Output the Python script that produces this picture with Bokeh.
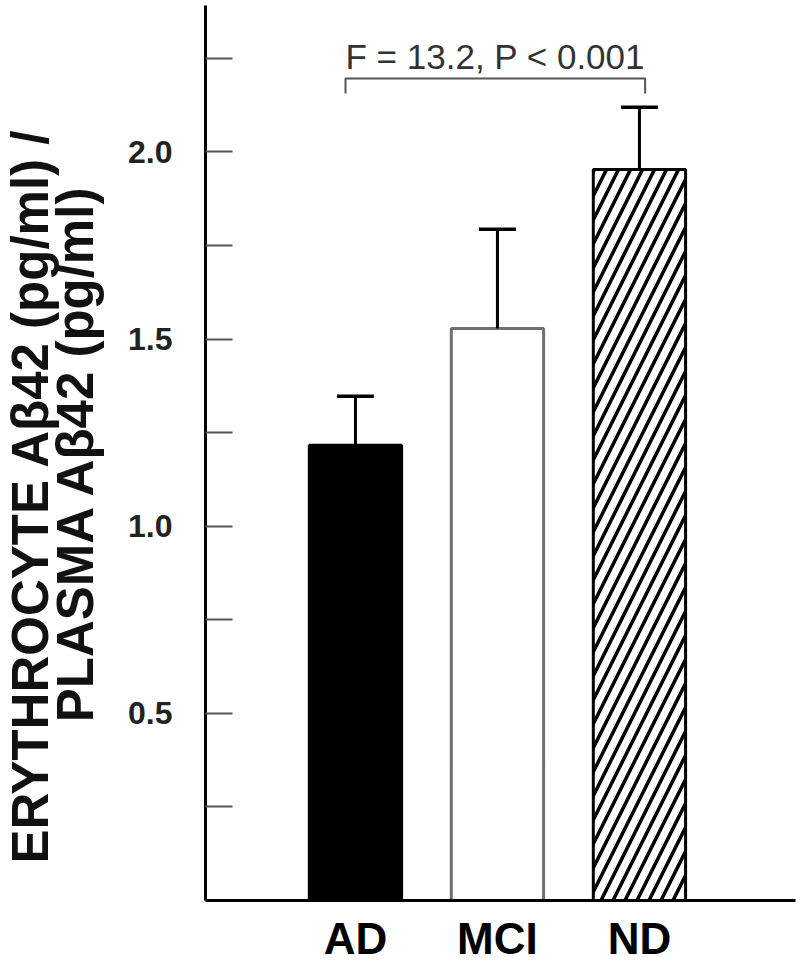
from bokeh.plotting import figure
from bokeh.models import Range1d, FixedTicker, Title
from bokeh.embed import file_html
from bokeh.resources import INLINE
from bokeh.core.properties import value

# ---- data ----
groups = ["AD", "MCI", "ND"]
means = [1.216, 1.528, 1.953]
sems = [0.131, 0.265, 0.166]
y_ticks = [0.25, 0.5, 0.75, 1.0, 1.25, 1.5, 1.75, 2.0, 2.25]
y_tick_labels = ["", "0.5", "", "1.0", "", "1.5", "", "2.0", ""]
stat_text = "F = 13.2, P < 0.001"
ylabel_lines = ["ERYTHROCYTE A\u03b242 (pg/ml) /", "PLASMA A\u03b242 (pg/ml)"]

# ---- styles ----
fills = ["black", "white", "white"]
outlines = ["black", "#707070", "black"]
hatches = [" ", " ", "/"]
FONT = "Liberation Sans"
TITLE_SIZE = "51px"

xs = [i + 1 for i in range(len(groups))]
tops = [m + s for m, s in zip(means, sems)]

p = figure(width=800, height=965, output_backend="svg", toolbar_location=None,
           x_range=Range1d(-0.056, 4.099), y_range=Range1d(0, 2.391),
           min_border_left=205, min_border_right=5, min_border_top=5,
           min_border_bottom=65)
p.outline_line_color = None
p.xgrid.visible = False
p.ygrid.visible = False
p.background_fill_color = "white"
p.border_fill_color = "white"

# bars
p.vbar(x=xs, top=means, bottom=0, width=0.65, fill_color=fills,
       line_color=outlines, line_width=3, hatch_pattern=hatches,
       hatch_color="black", hatch_scale=24, hatch_weight=3.5)

# error bars (upper only)
p.segment(x0=xs, y0=means, x1=xs, y1=tops, line_color="black", line_width=3)
cap = 0.13
p.segment(x0=[x - cap for x in xs], y0=tops, x1=[x + cap for x in xs], y1=tops,
          line_color="black", line_width=3.5)

# significance bracket
bx0, bx1 = xs[0] - 0.07, xs[-1] + 0.04
by, bdrop = 2.196, 0.04
p.line(x=[bx0, bx0, bx1, bx1], y=[by - bdrop, by, by, by - bdrop],
       line_color="#555555", line_width=2, line_join="round")
p.text(x=[(bx0 + bx1) / 2], y=[2.255], text=[stat_text],
       text_font=value(FONT), text_font_size="35px", text_align="center",
       text_baseline="alphabetic", text_color="#333333")

# axes
yax = p.yaxis[0]
yax.ticker = FixedTicker(ticks=y_ticks)
yax.major_label_overrides = {t: l for t, l in zip(y_ticks, y_tick_labels)}
yax.axis_line_width = 3
yax.axis_line_color = "black"
yax.major_tick_in = 27
yax.major_tick_out = 0
yax.major_tick_line_width = 2
yax.major_tick_line_color = "#555555"
yax.minor_tick_line_color = None
yax.major_label_text_font = FONT
yax.major_label_text_font_style = "bold"
yax.major_label_text_font_size = "32px"
yax.major_label_text_color = "#222222"
yax.major_label_standoff = 33
# second line of the y title as the axis label
yax.axis_label = ylabel_lines[1]
yax.axis_label_standoff = 21
yax.axis_label_text_font = FONT
yax.axis_label_text_font_style = "bold"
yax.axis_label_text_font_size = TITLE_SIZE
yax.axis_label_text_color = "#111111"

xax = p.xaxis[0]
xax.ticker = FixedTicker(ticks=xs)
xax.major_label_overrides = {x: g for x, g in zip(xs, groups)}
xax.axis_line_width = 3
xax.axis_line_color = "black"
xax.major_tick_line_color = None
xax.minor_tick_line_color = None
xax.major_label_text_font = FONT
xax.major_label_text_font_style = "bold"
xax.major_label_text_font_size = "44px"
xax.major_label_text_color = "black"
xax.major_label_standoff = 7

# first line of the y title, outermost in the left panel
t1 = Title(text=ylabel_lines[0], align="left", offset=37, standoff=0,
           text_font=FONT, text_font_style="bold", text_font_size=TITLE_SIZE,
           text_color="#111111")
try:
    t1.standoff = -29
except Exception:
    t1.standoff = 0
p.add_layout(t1, "left")

open("out.html", "w").write(file_html(p, INLINE))
